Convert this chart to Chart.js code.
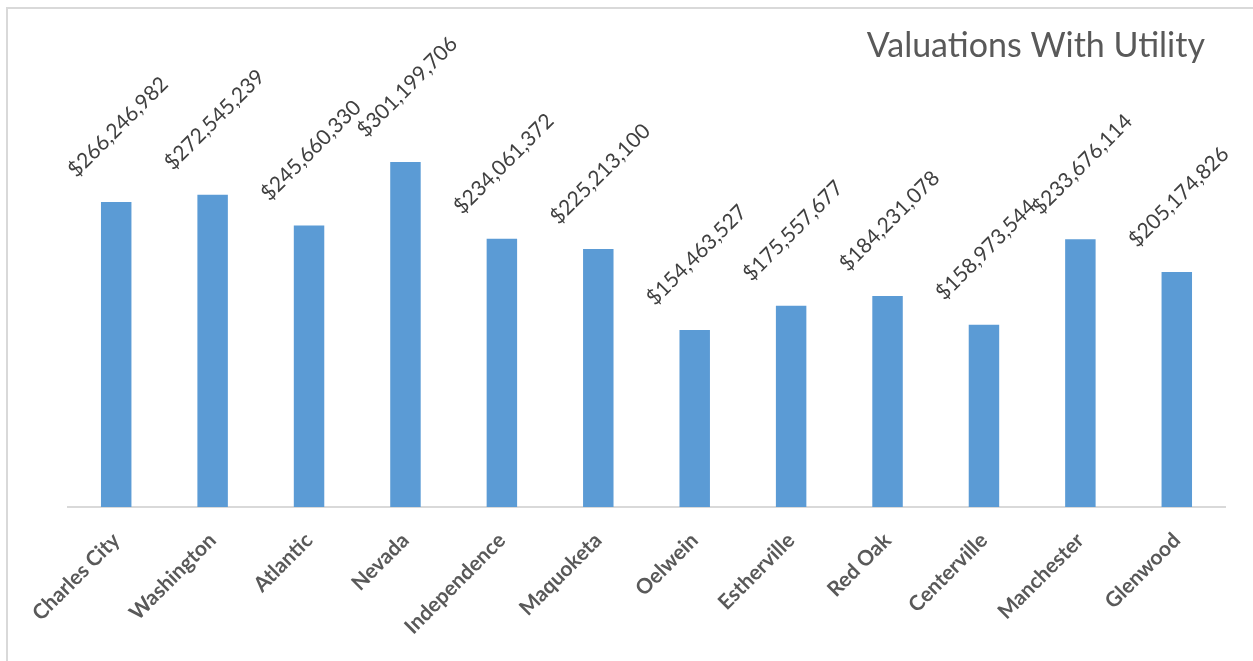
<!DOCTYPE html>
<html>
<head>
<meta charset="utf-8">
<title>Valuations With Utility</title>
<script src="https://cdn.jsdelivr.net/npm/chart.js@4/dist/chart.umd.min.js"></script>
<style>
  html, body { margin: 0; padding: 0; background: #fff; }
  #wrap { position: relative; width: 1253px; height: 661px; overflow: hidden; }
  #frame {
    position: absolute; left: 6px; top: 7px; right: -2px; bottom: -2px;
    border-top: 2px solid #d9d9d9; border-left: 2px solid #d9d9d9;
    pointer-events: none;
  }
  canvas { position: absolute; left: 0; top: 0; }
</style>
</head>
<body>
<div id="wrap">
  <canvas id="valuationChart" width="1253" height="661"></canvas>
  <div id="frame"></div>
</div>
<script>
// Valuations per town (with utility)
const towns = ['Charles City', 'Washington', 'Atlantic', 'Nevada', 'Independence', 'Maquoketa',
  'Oelwein', 'Estherville', 'Red Oak', 'Centerville', 'Manchester', 'Glenwood'];
const valuations = [266246982, 272545239, 245660330, 301199706, 234061372, 225213100,
  154463527, 175557677, 184231078, 158973544, 233676114, 205174826];
const chartTitle = 'Valuations With Utility';

const money = v => '$' + v.toLocaleString('en-US');

// Rotated value labels above each bar
const barLabels = {
  id: 'barLabels',
  afterDatasetsDraw(chart) {
    const ctx = chart.ctx;
    const meta = chart.getDatasetMeta(0);
    ctx.save();
    ctx.font = '21px Lato';
    ctx.fillStyle = '#404040';
    ctx.textAlign = 'center';
    ctx.textBaseline = 'middle';
    meta.data.forEach((bar, i) => {
      ctx.save();
      ctx.translate(bar.x + 2, bar.y - 75);
      ctx.rotate(-Math.PI / 4);
      ctx.fillText(money(valuations[i]), 0, 0);
      ctx.restore();
    });
    ctx.restore();
  }
};

// Title in the top right corner
const cornerTitle = {
  id: 'cornerTitle',
  afterDraw(chart) {
    const ctx = chart.ctx;
    ctx.save();
    ctx.font = '34px Lato';
    ctx.fillStyle = '#595959';
    ctx.textAlign = 'right';
    ctx.textBaseline = 'alphabetic';
    ctx.fillText(chartTitle, 1205, 57);
    ctx.restore();
  }
};

new Chart(document.getElementById('valuationChart'), {
  type: 'bar',
  data: {
    labels: towns,
    datasets: [{
      data: valuations,
      backgroundColor: '#5b9bd5',
      borderWidth: 0,
      categoryPercentage: 1,
      barPercentage: 0.316
    }]
  },
  options: {
    responsive: false,
    animation: false,
    layout: { padding: { top: 106, left: 68, right: 28, bottom: 0 } },
    plugins: {
      legend: { display: false },
      tooltip: { enabled: false }
    },
    scales: {
      x: {
        grid: { display: false, drawTicks: false },
        border: { display: true, color: '#d9d9d9', width: 2 },
        ticks: {
          color: '#595959',
          font: { family: 'Lato', size: 21, weight: 'bold' },
          minRotation: 45,
          maxRotation: 45,
          padding: 21,
          autoSkip: false
        },
        afterFit: scale => { scale.height = 154; }
      },
      y: {
        display: false,
        min: 0,
        max: 350000000
      }
    }
  },
  plugins: [barLabels, cornerTitle]
});
</script>
</body>
</html>
